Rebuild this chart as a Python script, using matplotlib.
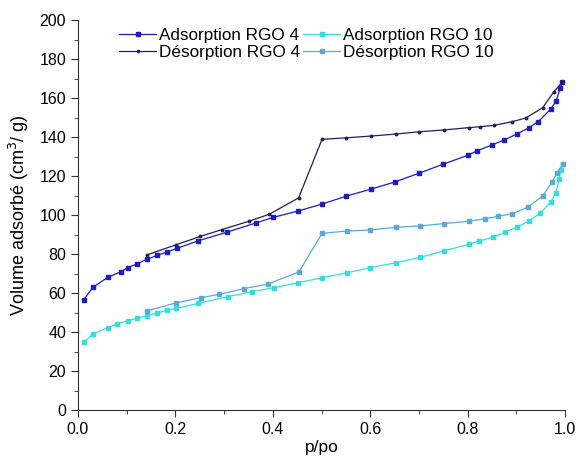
import matplotlib.pyplot as plt
from matplotlib.ticker import MultipleLocator

plt.rcParams['font.family'] = ['Liberation Sans', 'DejaVu Sans']

# RGO 4
ads4_x = [0.012, 0.031, 0.061, 0.088, 0.102, 0.122, 0.141, 0.163, 0.182, 0.203, 0.247,
          0.306, 0.366, 0.401, 0.451, 0.501, 0.551, 0.602, 0.650, 0.701, 0.749, 0.800,
          0.820, 0.850, 0.875, 0.901, 0.926, 0.945, 0.971, 0.982, 0.990, 0.994]
ads4_y = [56.6, 63.0, 68.0, 70.9, 73.0, 75.0, 77.3, 79.3, 81.0, 82.9, 86.8,
          91.2, 96.0, 98.8, 102.0, 105.6, 109.7, 113.3, 116.9, 121.5, 126.0, 130.6,
          133.0, 135.9, 138.5, 141.5, 144.8, 147.9, 154.4, 158.6, 165.0, 168.0]
des4_x = [0.994, 0.977, 0.954, 0.919, 0.892, 0.855, 0.826, 0.802, 0.751, 0.701, 0.652,
          0.602, 0.551, 0.501, 0.453, 0.393, 0.351, 0.295, 0.251, 0.202, 0.141]
des4_y = [168.0, 163.2, 155.0, 149.7, 147.9, 146.0, 145.3, 144.8, 143.6, 142.7, 141.5,
          140.5, 139.6, 138.8, 108.8, 100.4, 96.8, 92.5, 89.0, 84.8, 79.5]

# RGO 10
ads10_x = [0.012, 0.031, 0.061, 0.081, 0.102, 0.121, 0.141, 0.163, 0.182, 0.202, 0.247,
           0.307, 0.357, 0.402, 0.452, 0.501, 0.553, 0.600, 0.652, 0.703, 0.752, 0.802,
           0.824, 0.852, 0.876, 0.901, 0.926, 0.949, 0.971, 0.981, 0.988, 0.991, 0.995]
ads10_y = [34.8, 39.0, 42.2, 44.1, 45.8, 47.0, 48.4, 49.7, 51.1, 52.1, 54.7,
           58.1, 60.7, 62.7, 65.3, 67.8, 70.4, 73.0, 75.5, 78.3, 81.7, 84.9,
           86.7, 88.6, 91.1, 93.7, 96.9, 100.9, 106.8, 111.4, 118.3, 123.0, 126.0]
des10_x = [0.995, 0.983, 0.974, 0.954, 0.923, 0.892, 0.862, 0.835, 0.802, 0.751, 0.703,
           0.652, 0.600, 0.553, 0.501, 0.454, 0.390, 0.340, 0.290, 0.252, 0.202, 0.141]
des10_y = [126.0, 121.4, 117.1, 109.7, 103.9, 100.7, 99.3, 98.1, 96.8, 95.6, 94.4,
           93.7, 92.3, 91.8, 90.6, 70.9, 64.6, 62.2, 59.3, 57.6, 55.0, 50.8]

fig, ax = plt.subplots(figsize=(5.76, 4.61), dpi=100)
fig.subplots_adjust(left=0.1354, right=0.981, bottom=0.1106, top=0.9566)

ax.plot(ads4_x, ads4_y, color='#1c1cc8', marker='s', markersize=2.6, lw=0.9,
        label='Adsorption RGO 4')
ax.plot(des4_x, des4_y, color='#20205a', marker='o', markersize=1.8, lw=0.9,
        label='Désorption RGO 4')
ax.plot(ads10_x, ads10_y, color='#30e0e0', marker='s', markersize=2.6, lw=0.9,
        label='Adsorption RGO 10')
ax.plot(des10_x, des10_y, color='#5aaad8', marker='s', markersize=2.6, lw=0.9,
        label='Désorption RGO 10')

ax.set_xlim(0, 1.0)
ax.set_ylim(0, 200)
ax.xaxis.set_major_locator(MultipleLocator(0.2))
ax.xaxis.set_minor_locator(MultipleLocator(0.1))
ax.yaxis.set_major_locator(MultipleLocator(20))
ax.yaxis.set_minor_locator(MultipleLocator(10))
ax.xaxis.set_major_formatter(plt.FuncFormatter(lambda v, p: f'{v:.1f}'))

for spine in ['top', 'right']: ax.spines[spine].set_visible(False)
for spine in ['left', 'bottom']:
    ax.spines[spine].set_color('#333333')
ax.tick_params(which='major', direction='out', length=5, labelsize=11.5, color='#333333')
ax.tick_params(which='minor', direction='out', length=3, color='#333333')

ax.set_xlabel('p/po', fontsize=12.5, labelpad=2)
ax.set_ylabel('Volume adsorbé (cm$^3$/ g)', fontsize=13, labelpad=6)

ax.legend(ncol=2, frameon=False, fontsize=12.3, loc='upper left',
          bbox_to_anchor=(0.084, 0.98), borderaxespad=0, borderpad=0,
          handlelength=2.2, handletextpad=0.15, columnspacing=0.15,
          labelspacing=0.15, markerscale=0.9)

plt.savefig('out.png', dpi=100)
